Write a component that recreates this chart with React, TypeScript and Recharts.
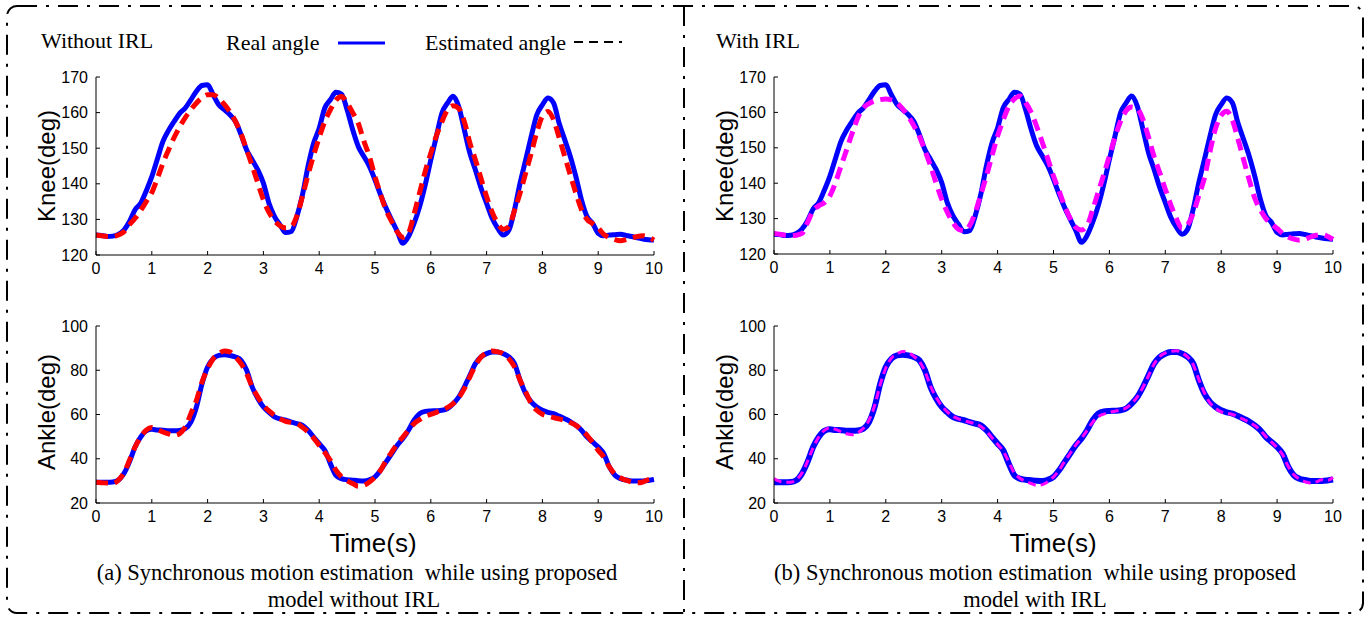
import { LineChart, Line, XAxis, YAxis } from 'recharts'

// time (s), sampled every 0.1 s
const time = [
  0, 0.1, 0.2, 0.3, 0.4, 0.5, 0.6, 0.7, 0.8, 0.9,
  1, 1.1, 1.2, 1.3, 1.4, 1.5, 1.6, 1.7, 1.8, 1.9,
  2, 2.1, 2.2, 2.3, 2.4, 2.5, 2.6, 2.7, 2.8, 2.9,
  3, 3.1, 3.2, 3.3, 3.4, 3.5, 3.6, 3.7, 3.8, 3.9,
  4, 4.1, 4.2, 4.3, 4.4, 4.5, 4.6, 4.7, 4.8, 4.9,
  5, 5.1, 5.2, 5.3, 5.4, 5.5, 5.6, 5.7, 5.8, 5.9,
  6, 6.1, 6.2, 6.3, 6.4, 6.5, 6.6, 6.7, 6.8, 6.9,
  7, 7.1, 7.2, 7.3, 7.4, 7.5, 7.6, 7.7, 7.8, 7.9,
  8, 8.1, 8.2, 8.3, 8.4, 8.5, 8.6, 8.7, 8.8, 8.9,
  9, 9.1, 9.2, 9.3, 9.4, 9.5, 9.6, 9.7, 9.8, 9.9,
  10,
]

const kneeReal = [
  125.6, 125.5, 125.2, 125.3, 125.8, 127.0, 129.4, 132.7, 134.5, 138.0,
  142.0, 147.0, 151.9, 155.0, 157.5, 159.8, 161.3, 163.6, 166.0, 167.6,
  167.8, 165.0, 162.2, 160.8, 159.4, 157.5, 153.8, 149.5, 146.7, 143.9,
  140.2, 134.5, 130.8, 128.4, 126.3, 126.6, 130.8, 136.9, 144.9, 151.4,
  155.6, 161.3, 163.6, 165.7, 165.2, 160.8, 155.2, 150.5, 147.7, 144.9,
  141.1, 136.9, 133.1, 129.8, 126.6, 123.3, 125.2, 128.9, 133.6, 139.7,
  146.7, 153.3, 159.9, 162.7, 164.6, 161.7, 155.2, 148.6, 143.9, 138.8,
  134.5, 130.3, 127.5, 125.6, 127.0, 132.7, 140.2, 146.7, 153.3, 159.4,
  162.2, 164.1, 162.7, 157.0, 152.4, 147.7, 142.0, 135.5, 130.8, 128.9,
  126.1, 125.4, 125.6, 125.7, 125.8, 125.5, 125.2, 124.8, 124.5, 124.3,
  124.2,
]

// estimated knee angle, model without IRL
const kneeEstNoIrl = [
  125.6, 125.4, 125.2, 125.2, 125.6, 126.5, 128.5, 130.3, 132.5, 135.0,
  137.5, 141.5, 145.8, 149.5, 153.0, 156.0, 158.6, 160.8, 162.7, 164.2,
  165.0, 165.0, 164.0, 162.3, 160.2, 157.5, 154.0, 149.5, 145.0, 140.2,
  135.5, 132.0, 129.6, 128.2, 127.6, 128.0, 131.0, 136.5, 142.5, 148.0,
  153.0, 157.5, 160.8, 163.5, 164.5, 162.7, 160.0, 157.0, 152.0, 147.7,
  142.0, 137.0, 132.5, 129.4, 126.5, 125.0, 126.2, 131.5, 137.5, 143.5,
  148.6, 153.5, 157.5, 160.8, 161.9, 161.2, 157.5, 151.5, 146.7, 141.5,
  136.4, 132.0, 128.9, 127.2, 128.0, 132.5, 137.4, 143.0, 148.6, 154.5,
  159.0, 160.3, 158.0, 153.0, 147.7, 142.5, 137.4, 132.8, 130.0, 128.8,
  127.6, 125.8, 124.9, 124.3, 124.0, 124.3, 124.8, 125.2, 125.4, 125.0,
  124.2,
]

// estimated knee angle, model with IRL
const kneeEstIrl = [
  125.8, 125.6, 125.3, 125.2, 125.3, 125.8, 128.9, 132.2, 133.6, 134.5,
  136.4, 140.2, 144.9, 149.5, 154.2, 158.5, 161.3, 162.5, 163.2, 163.6,
  163.8, 163.5, 162.7, 161.0, 158.9, 156.3, 153.3, 149.2, 144.9, 140.0,
  135.5, 131.8, 128.9, 127.0, 126.6, 128.0, 131.7, 136.8, 142.0, 147.8,
  153.3, 157.8, 161.7, 163.8, 164.6, 162.8, 160.0, 156.0, 151.5, 146.8,
  142.0, 137.8, 133.5, 130.0, 127.5, 126.8, 128.0, 132.5, 137.5, 142.5,
  147.7, 153.0, 157.5, 160.5, 161.5, 161.0, 158.0, 153.0, 147.5, 143.0,
  138.3, 133.8, 129.9, 127.3, 128.3, 131.5, 136.5, 141.5, 149.0, 155.5,
  159.2, 160.3, 157.8, 152.5, 146.7, 141.0, 135.8, 132.5, 130.0, 128.5,
  127.2, 125.8, 124.8, 124.2, 123.9, 124.2, 124.8, 125.3, 125.5, 125.0,
  124.1,
]

const ankleReal = [
  29.4, 29.4, 29.4, 29.5, 30.3, 33.3, 38.6, 45.3, 49.8, 52.6,
  53.3, 53.0, 52.9, 52.7, 52.6, 52.8, 53.6, 56.6, 63.4, 73.9,
  81.5, 85.2, 86.7, 87.0, 86.7, 86.0, 84.5, 80.0, 72.4, 67.2,
  63.4, 61.0, 58.9, 58.0, 57.4, 56.6, 55.9, 55.1, 52.9, 49.8,
  46.8, 43.8, 37.8, 32.5, 31.0, 30.5, 30.3, 30.1, 30.0, 30.5,
  31.8, 34.8, 38.6, 42.3, 46.1, 49.1, 52.9, 57.4, 60.4, 61.4,
  61.6, 61.7, 61.9, 62.7, 64.9, 67.9, 72.4, 77.7, 83.0, 86.0,
  87.5, 88.2, 88.3, 87.5, 86.0, 83.0, 75.5, 69.4, 65.7, 63.4,
  61.9, 61.0, 60.4, 59.3, 58.1, 56.8, 55.1, 52.9, 49.8, 47.6,
  45.3, 42.3, 36.3, 32.5, 31.0, 30.4, 30.0, 30.0, 30.0, 30.2,
  30.6,
]

const ankleEstNoIrl = [
  29.4, 29.2, 29.0, 28.8, 30.3, 33.6, 39.3, 45.3, 49.8, 52.9,
  54.1, 53.2, 52.1, 51.2, 50.6, 51.4, 54.4, 60.4, 66.4, 74.7,
  80.7, 85.2, 87.5, 88.7, 88.3, 86.0, 83.0, 78.5, 72.4, 67.9,
  64.2, 61.6, 59.6, 58.0, 56.9, 56.4, 55.9, 54.2, 52.1, 49.3,
  46.1, 42.8, 39.3, 34.8, 31.8, 30.0, 28.8, 27.6, 28.0, 29.5,
  31.8, 34.8, 39.3, 43.0, 46.8, 49.8, 52.9, 55.9, 57.7, 59.2,
  60.1, 61.0, 61.9, 63.2, 64.9, 67.6, 71.7, 77.0, 82.2, 86.0,
  87.8, 88.7, 88.3, 87.5, 85.2, 81.5, 75.5, 70.2, 64.9, 61.9,
  60.1, 59.3, 58.6, 58.0, 57.4, 56.4, 55.1, 53.0, 50.6, 47.3,
  43.8, 40.8, 36.3, 33.0, 31.3, 30.3, 29.5, 29.1, 29.5, 30.6,
  31.0,
]

const ankleEstIrl = [
  31.0, 29.8, 29.4, 29.4, 30.5, 33.5, 38.8, 45.0, 49.8, 52.8,
  54.0, 53.3, 52.3, 51.3, 50.9, 51.8, 53.8, 57.5, 64.0, 73.5,
  81.0, 85.5, 87.3, 88.5, 88.0, 86.3, 84.0, 79.5, 72.8, 67.8,
  64.0, 61.2, 59.2, 58.0, 57.2, 56.5, 55.8, 54.6, 52.5, 49.5,
  46.5, 43.5, 38.5, 33.5, 31.2, 29.8, 28.8, 28.0, 28.3, 29.6,
  31.8, 34.8, 38.8, 42.5, 46.3, 49.3, 52.8, 56.5, 59.0, 60.2,
  61.0, 61.5, 62.0, 63.0, 65.0, 68.0, 72.3, 77.5, 82.8, 86.2,
  87.8, 88.6, 88.8, 87.8, 86.0, 82.5, 75.8, 69.8, 65.2, 62.8,
  61.2, 60.5, 60.0, 59.0, 57.8, 56.5, 55.0, 52.8, 50.0, 47.5,
  45.0, 41.8, 36.5, 32.8, 30.8, 29.6, 29.0, 29.5, 30.5, 30.2,
  31.5,
]

const xTicks = [0, 1, 2, 3, 4, 5, 6, 7, 8, 9, 10]
const kneeTicks = [120, 130, 140, 150, 160, 170]
const ankleTicks = [20, 40, 60, 80, 100]

const sans = '"Liberation Sans", Arial, sans-serif'
const serif = '"Liberation Serif", "Times New Roman", serif'
const tickStyle = { fill: '#000', fontSize: 16, fontFamily: sans }
const noLabel = () => <g />

const makeRows = (real: number[], est: number[]) =>
  time.map((t, i) => ({ t, real: real[i], est: est[i] }))

interface PanelProps {
  x: number
  y: number
  w: number
  h: number
  real: number[]
  est: number[]
  domain: [number, number]
  ticks: number[]
  color: string
  estWidth: number
  dash: string
  realWidth: number
}

function Panel({ x, y, w, h, real, est, domain, ticks, color, estWidth, dash, realWidth }: PanelProps) {
  const ml = 60
  const mt = 8
  const mr = 10
  const xh = 30
  return (
    <div style={{ position: 'absolute', left: x - ml, top: y - mt }}>
      <LineChart width={ml + w + mr} height={mt + h + xh} data={makeRows(real, est)}
        margin={{ top: mt, right: mr, bottom: 0, left: 0 }}>
        <XAxis xAxisId="b" type="number" dataKey="t" domain={[0, 10]} ticks={xTicks} interval={0}
          tickSize={-4} tickMargin={12} height={xh} stroke="#000" tick={tickStyle} />
        <XAxis xAxisId="t" orientation="top" type="number" dataKey="t" domain={[0, 10]} ticks={xTicks}
          interval={0} tickSize={-4} height={0} stroke="#000" tick={noLabel} />
        <YAxis yAxisId="l" domain={domain} ticks={ticks} interval={0} tickSize={-4} tickMargin={12}
          width={ml} stroke="#000" tick={tickStyle} />
        <YAxis yAxisId="r" orientation="right" domain={domain} ticks={ticks} interval={0} tickSize={-4}
          width={0} stroke="#000" tick={noLabel} />
        <Line xAxisId="b" yAxisId="l" type="monotone" dataKey="real" stroke="#0000ff"
          strokeWidth={realWidth} dot={false} isAnimationActive={false} />
        <Line xAxisId="b" yAxisId="l" type="monotone" dataKey="est" stroke={color}
          strokeWidth={estWidth} strokeDasharray={dash} dot={false} isAnimationActive={false} />
      </LineChart>
    </div>
  )
}

const abs = (left: number, top: number, extra: React.CSSProperties = {}): React.CSSProperties => ({
  position: 'absolute', left, top, whiteSpace: 'pre', lineHeight: 1, color: '#000', ...extra,
})

function YLabel({ cx, cy, text }: { cx: number; cy: number; text: string }) {
  return (
    <div style={abs(cx, cy, { fontFamily: sans, fontSize: 24, transform: 'translate(-50%, -50%) rotate(-90deg)' })}>
      {text}
    </div>
  )
}

function Centered({ cx, top, text, size, font }: { cx: number; top: number; text: string; size: number; font: string }) {
  return (
    <div style={abs(cx, top, { fontFamily: font, fontSize: size, transform: 'translateX(-50%)' })}>{text}</div>
  )
}

export default function App() {
  return (
    <div style={{ position: 'absolute', left: 0, top: 0, width: 1369, height: 618, background: '#fff', overflow: 'hidden' }}>
      <svg width={1369} height={618} style={{ position: 'absolute', left: 0, top: 0 }}>
        <rect x={7} y={6} width={1356} height={607} rx={10} fill="none" stroke="#000" strokeWidth={2}
          strokeDasharray="20 9 3 9" />
        <line x1={684} y1={6} x2={684} y2={613} stroke="#000" strokeWidth={2} strokeDasharray="20 9 3 9" />
        <line x1={338} y1={43} x2={385} y2={43} stroke="#0000ff" strokeWidth={3} />
        <line x1={574} y1={42} x2={622} y2={42} stroke="#000" strokeWidth={2} strokeDasharray="9 6" />
      </svg>

      <div style={abs(41, 30, { fontFamily: serif, fontSize: 22 })}>Without IRL</div>
      <div style={abs(226, 32, { fontFamily: serif, fontSize: 22 })}>Real angle</div>
      <div style={abs(425, 32, { fontFamily: serif, fontSize: 22 })}>Estimated angle</div>
      <div style={abs(716, 30, { fontFamily: serif, fontSize: 22 })}>With IRL</div>

      <Panel x={96} y={77} w={558} h={178} real={kneeReal} est={kneeEstNoIrl} domain={[120, 170]}
        ticks={kneeTicks} color="#ff0000" estWidth={5} dash="12 7" realWidth={5} />
      <Panel x={96} y={326} w={558} h={177} real={ankleReal} est={ankleEstNoIrl} domain={[20, 100]}
        ticks={ankleTicks} color="#ff0000" estWidth={5} dash="12 7" realWidth={5} />
      <Panel x={774} y={77} w={559} h={177} real={kneeReal} est={kneeEstIrl} domain={[120, 170]}
        ticks={kneeTicks} color="#ff00ff" estWidth={5} dash="12 7" realWidth={5} />
      <Panel x={774} y={326} w={559} h={177} real={ankleReal} est={ankleEstIrl} domain={[20, 100]}
        ticks={ankleTicks} color="#ff00ff" estWidth={3} dash="8 5" realWidth={6} />

      <YLabel cx={47} cy={166} text="Knee(deg)" />
      <YLabel cx={47} cy={412} text="Ankle(deg)" />
      <YLabel cx={725} cy={166} text="Knee(deg)" />
      <YLabel cx={725} cy={412} text="Ankle(deg)" />

      <Centered cx={373} top={530} text="Time(s)" size={26} font={sans} />
      <Centered cx={1053} top={530} text="Time(s)" size={26} font={sans} />

      <Centered cx={357} top={562} text="(a) Synchronous motion estimation  while using proposed" size={22.5} font={serif} />
      <Centered cx={354} top={589} text="model without IRL" size={22.5} font={serif} />
      <Centered cx={1035} top={562} text="(b) Synchronous motion estimation  while using proposed" size={22.5} font={serif} />
      <Centered cx={1035} top={589} text="model with IRL" size={22.5} font={serif} />
    </div>
  )
}
